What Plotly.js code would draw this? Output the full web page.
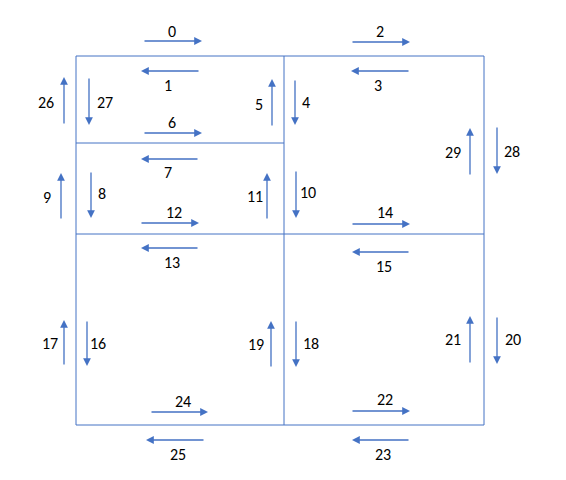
<!DOCTYPE html>
<html>
<head>
<meta charset="utf-8">
<script src="https://cdn.plot.ly/plotly-3.0.1.min.js"></script>
<style>html,body{margin:0;padding:0;background:#fff}#chart{width:566px;height:480px}</style>
</head>
<body>
<div id="chart"></div>
<script>
// Arrow ids with tail (x0,y0), head (x1,y1) and label position, in picture pixels
const ids    = [0, 2, 1, 3, 26, 27, 5, 4, 6, 7, 9, 8, 11, 10, 29, 28, 12, 14, 13, 15, 17, 16, 19, 18, 21, 20, 24, 22, 25, 23];
const tailX  = [143, 351, 200, 410, 64, 89, 272, 295, 143, 199, 61, 91, 267, 296, 470, 497, 140, 351, 199, 410, 64, 87, 271, 296, 470, 497, 150, 351, 205, 410];
const tailY  = [41, 42, 71, 71, 125, 77, 127, 79, 133, 159, 220, 171, 220, 170, 176, 126, 223, 224, 248, 252, 366, 320, 368, 320, 364, 316, 412, 411, 440, 440];
const headX  = [202, 410, 141, 351, 64, 89, 272, 295, 202, 141, 61, 91, 267, 296, 470, 497, 199, 410, 141, 352, 64, 87, 271, 296, 470, 497, 208, 410, 146, 352];
const headY  = [41, 42, 71, 71, 77, 125, 79, 125, 133, 159, 173, 218, 173, 218, 128, 174, 223, 224, 248, 252, 320, 366, 321, 367, 316, 364, 412, 411, 440, 440];
const labelX = [172, 380, 168, 378, 46, 105, 259, 306, 172, 168, 47, 102, 255, 308, 453, 512, 174, 385, 172, 384, 50, 98, 256, 311, 453, 513, 183, 385, 178, 383];
const labelY = [31, 31, 85, 85, 102, 102, 104, 102, 122, 172, 197, 193, 196, 192, 152, 151, 212, 212, 262, 266, 343, 343, 344, 343, 339, 339, 401, 399, 454, 454];

// Grid segments
const gridX0 = [76, 76, 484, 76, 284, 76, 76];
const gridY0 = [56, 425, 56, 56, 56, 234, 143];
const gridX1 = [484, 484, 484, 76, 284, 484, 284];
const gridY1 = [56, 425, 425, 425, 425, 234, 143];

const blue = '#4472C4';

const shapes = gridX0.map((x, i) => ({
    type: 'line', xref: 'x', yref: 'y',
    x0: x, y0: gridY0[i], x1: gridX1[i], y1: gridY1[i],
    line: { color: blue, width: 1 },
}));

const annotations = [];
ids.forEach((id, i) => {
    annotations.push({
        x: headX[i], y: headY[i], ax: tailX[i], ay: tailY[i],
        xref: 'x', yref: 'y', axref: 'x', ayref: 'y',
        text: '', showarrow: true, arrowhead: 2, arrowsize: 1.2,
        arrowwidth: 1.3, arrowcolor: blue,
    });
    annotations.push({
        x: labelX[i], y: labelY[i], xref: 'x', yref: 'y',
        text: String(id), showarrow: false,
        font: { family: 'Carlito, Liberation Sans, sans-serif', size: 16, color: '#000' },
    });
});

const layout = {
    width: 566, height: 480,
    margin: { t: 0, l: 0, r: 0, b: 0 },
    xaxis: { range: [0, 566], visible: false, fixedrange: true },
    yaxis: { range: [480, 0], visible: false, fixedrange: true },
    shapes: shapes,
    annotations: annotations,
    paper_bgcolor: '#fff',
    plot_bgcolor: '#fff',
    showlegend: false,
};

Plotly.newPlot('chart', [], layout, { staticPlot: true });
</script>
</body>
</html>
